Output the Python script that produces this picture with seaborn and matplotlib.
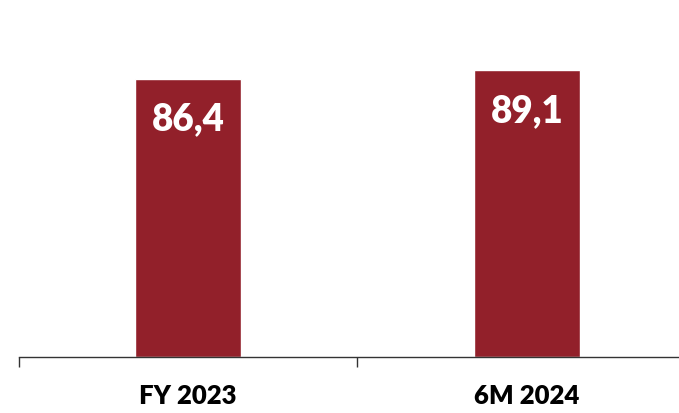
import matplotlib
matplotlib.use("Agg")
import matplotlib.pyplot as plt
import pandas as pd
import seaborn as sns
from matplotlib.ticker import FixedLocator

# Data
periods = ["FY 2023", "6M 2024"]
values = [86.4, 89.1]
value_labels = ["86,4", "89,1"]

BAR_COLOR = "#92202A"
AXIS_COLOR = "#333333"

sns.set_style("white")
plt.rcParams["font.family"] = ["Lato", "DejaVu Sans"]

df = pd.DataFrame({"period": periods, "value": values})

fig = plt.figure(figsize=(6.79, 4.13), dpi=100)
ax = fig.add_axes([18.5 / 679, 1 - 357.3 / 413, 678 / 679, 357.3 / 413])

sns.barplot(data=df, x="period", y="value", color=BAR_COLOR, saturation=1,
            width=0.313, ax=ax, errorbar=None)

ax.set_xlim(-0.5, 1.5)
ax.set_ylim(0, 111)
ax.set_xlabel("")
ax.set_ylabel("")
ax.set_yticks([])

for side in ("top", "right", "left"):
    ax.spines[side].set_visible(False)
ax.spines["bottom"].set_color(AXIS_COLOR)
ax.spines["bottom"].set_linewidth(1.0)

# Category boundary ticks below the axis line
ax.xaxis.set_minor_locator(FixedLocator([-0.5, 0.5, 1.5]))
ax.tick_params(axis="x", which="minor", bottom=True, direction="out",
               length=7.2, width=1.0, color=AXIS_COLOR)
ax.tick_params(axis="x", which="major", length=0, pad=19.5)
for lbl in ax.get_xticklabels():
    lbl.set_fontweight("heavy")
    lbl.set_fontsize(18.5)
    lbl.set_color("black")

# Value labels inside the top of each bar
for bar, text in zip(ax.patches, value_labels):
    x = bar.get_x() + bar.get_width() / 2
    y = bar.get_height()
    ax.annotate(text, (x, y), xytext=(0, -37), textcoords="offset points",
                ha="center", va="baseline", color="white",
                fontsize=26.5, fontweight="heavy")

fig.savefig("out.png", dpi=100)
